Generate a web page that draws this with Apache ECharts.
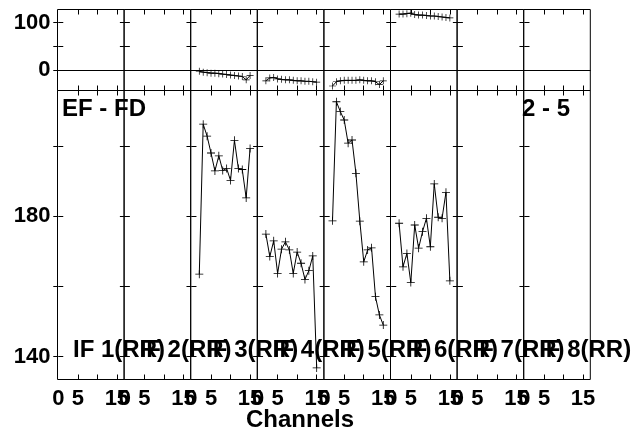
<!DOCTYPE html>
<html>
<head>
<meta charset="utf-8">
<script src="https://cdn.jsdelivr.net/npm/echarts@6/dist/echarts.min.js"></script>
<style>html,body{margin:0;padding:0;background:#fff}#main{width:634px;height:432px}</style>
</head>
<body>
<div id="main"></div>
<script>
var channels = [2, 3, 4, 5, 6, 7, 8, 9, 10, 11, 12, 13, 14, 15];
var ifNames = ['IF 1(RR)', 'IF 2(RR)', 'IF 3(RR)', 'IF 4(RR)', 'IF 5(RR)', 'IF 6(RR)', 'IF 7(RR)', 'IF 8(RR)'];
// upper strip, IF 3..6
var topIF3 = [-2, -4, -5, -6, -6, -7, -8, -9, -10, -11, -12, -13, -20, -11];
var topIF4 = [-22, -16, -15, -18, -19, -20, -20, -21, -22, -22, -23, -23, -24, -25];
var topIF5 = [-33, -24, -22, -21, -21, -21, -21, -20, -21, -22, -22, -24, -30, -22];
var topIF6 = [118, 118, 119, 120, 117, 116, 116, 115, 114, 114, 113, 112, 111, 110];
// main panel, IF 3..6
var mainIF3 = [163.5, 206.2, 202.8, 198.0, 192.9, 197.2, 193.0, 193.6, 190.2, 201.6, 193.6, 193.3, 185.2, 199.3];
var mainIF4 = [174.9, 168.5, 173.0, 163.7, 170.6, 172.7, 170.4, 163.7, 169.8, 166.6, 162.0, 164.5, 168.7, 136.8];
var mainIF5 = [178.7, 212.6, 209.8, 207.4, 200.8, 201.7, 192.2, 178.6, 167.0, 170.4, 171.0, 157.1, 151.9, 149.0];
var mainIF6 = [178.0, 165.6, 169.4, 161.1, 177.5, 170.9, 175.6, 179.4, 171.3, 189.2, 179.7, 179.4, 186.8, 161.6];
var topTicks = [0, 50, 100];
var topLabels = [0, 100];
var mainTicks = [140, 160, 180, 200];
var mainLabels = [140, 180];
var xTicks = [5, 10, 15];
var xLabels = [0, 5, 15];

var topData = [null, null, topIF3, topIF4, topIF5, topIF6, null, null];
var mainData = [null, null, mainIF3, mainIF4, mainIF5, mainIF6, null, null];

var font = 'Liberation Sans, Arial, sans-serif';
var x0 = 57.5, pw = 66.6;
var rows = [
    {top: 9.5, height: 81, min: -42.4, max: 127.7, ticks: topTicks, labels: topLabels, data: topData, sym: 7},
    {top: 90.5, height: 289, min: 133.5, max: 215.8, ticks: mainTicks, labels: mainLabels, data: mainData, sym: 8}
];
var plus = 'path://M0,4.5H10V5.5H0Z M4.5,0H5.5V10H4.5Z';

var grids = [], xAxes = [], yAxes = [], series = [];
rows.forEach(function(row, r) {
    for (var c = 0; c < 8; c++) {
        var g = grids.length;
        grids.push({left: x0 + c * pw, top: row.top, width: pw, height: row.height,
            show: true, borderColor: '#000', borderWidth: 1, containLabel: false});
        var tick = {show: true, inside: true, length: 5, lineStyle: {color: '#000'}};
        var yl = yAxes.length;
        [ 'left', 'right' ].forEach(function(pos) {
            yAxes.push({type: 'value', gridIndex: g, position: pos, min: row.min, max: row.max,
                axisLine: {show: false}, splitLine: {show: false},
                axisTick: Object.assign({customValues: row.ticks}, tick),
                axisLabel: {show: pos === 'left' && c === 0, customValues: row.labels, margin: 7,
                    color: '#000', fontFamily: font, fontWeight: 'bold', fontSize: 22}});
        });
        var xl = xAxes.length;
        ['bottom', 'top'].forEach(function(pos) {
            xAxes.push({type: 'value', gridIndex: g, position: pos, min: -0.2, max: 16.85,
                axisLine: {show: false, onZero: false}, splitLine: {show: false},
                axisTick: Object.assign({customValues: xTicks}, tick),
                axisLabel: {show: pos === 'bottom' && r === 1, customValues: xLabels, margin: 8,
                    color: '#000', fontFamily: font, fontWeight: 'bold', fontSize: 22}});
        });
        if (r === 0) {
            // zero line across upper strip
            xAxes.push({type: 'value', gridIndex: g, position: 'bottom', min: -0.2, max: 16.85,
                axisLine: {show: true, onZero: true, onZeroAxisIndex: yl, lineStyle: {color: '#000', width: 1}},
                axisTick: {show: false}, axisLabel: {show: false}, splitLine: {show: false}});
        }
        var vals = row.data[c];
        if (vals) {
            series.push({type: 'line', xAxisIndex: xl, yAxisIndex: yl,
                data: channels.map(function(ch, i) { return [ch, vals[i]]; }),
                symbol: plus, symbolSize: row.sym, showSymbol: true,
                lineStyle: {color: '#000', width: 1}, itemStyle: {color: '#000'},
                animation: false, silent: true});
        }
    }
});

var graphics = [];
ifNames.forEach(function(name, c) {
    graphics.push({type: 'text', left: x0 + c * pw + 15.5, top: 338,
        style: {text: name, fill: '#000', font: 'bold 24px ' + font}});
});
graphics.push({type: 'text', left: 62, top: 97, style: {text: 'EF - FD', fill: '#000', font: 'bold 24px ' + font}});
graphics.push({type: 'text', left: 522, top: 97, style: {text: '2 - 5', fill: '#000', font: 'bold 24px ' + font}});
graphics.push({type: 'text', left: 246, top: 408, style: {text: 'Channels', fill: '#000', font: 'bold 24px ' + font}});

var chart = echarts.init(document.getElementById('main'));
chart.setOption({
    animation: false,
    backgroundColor: '#fff',
    grid: grids,
    xAxis: xAxes,
    yAxis: yAxes,
    series: series,
    graphic: graphics
});
</script>
</body>
</html>
